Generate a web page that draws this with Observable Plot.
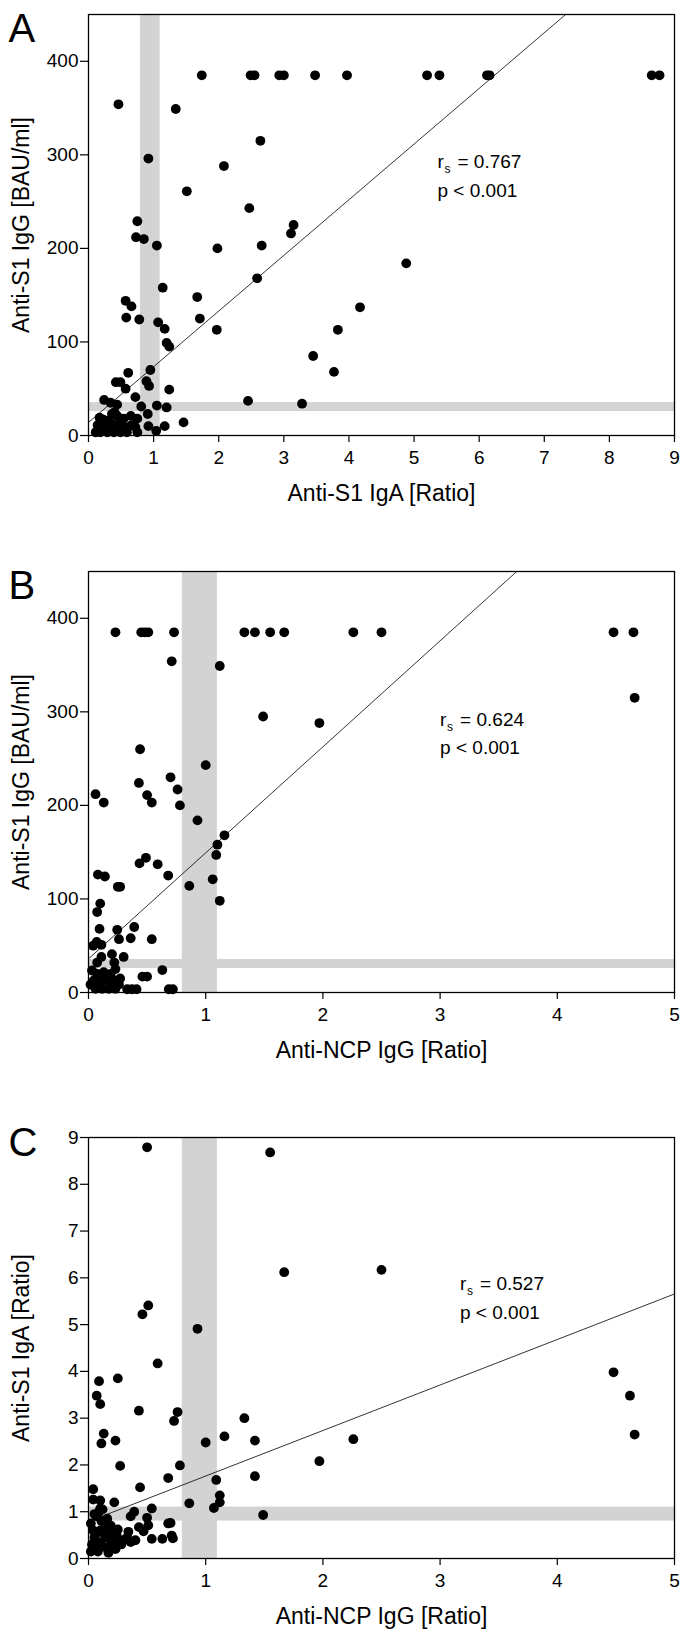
<!DOCTYPE html>
<html><head><meta charset="utf-8">
<script src="https://cdn.jsdelivr.net/npm/d3@7"></script>
<script src="https://cdn.jsdelivr.net/npm/@observablehq/plot@0.6"></script>
<style>
html,body{margin:0;padding:0;background:#fff;}
#wrap{position:relative;width:683px;height:1631px;overflow:hidden;background:#fff;}
#wrap > .pan{position:absolute;left:0;}
</style></head><body><div id="wrap"></div>
<script>
// ---------- Panel A: Anti-S1 IgA (x) vs Anti-S1 IgG (y) ----------
const aIgA = [1.74,2.49,2.55,2.93,3.0,3.48,3.97,5.2,5.39,6.12,6.16,8.65,8.77,
  0.46,1.34,0.92,2.64,2.08,1.51,2.47,0.75,0.73,0.85,1.05,1.98,2.66,3.15,3.11,4.88,2.59,1.14,
  0.57,0.66,1.67,0.58,0.78,1.71,1.07,1.17,1.97,1.20,1.24,4.17,3.83,3.45,3.77,0.95,0.61,0.42,
  0.49,0.57,0.89,0.93,1.24,0.72,0.24,2.45,3.28,0.34,0.44,0.81,1.05,1.20,0.91,1.46,0.17,0.23,
  0.14,0.40,0.44,0.31,0.37,0.65,0.75,0.66,0.72,0.92,1.04,1.17,0.11,0.18,0.29,0.39,0.49,0.59,
  0.75,0.21,0.34,0.47,0.57,0.29,0.49,0.36,0.54];
const aIgG = [385,385,385,385,385,385,385,385,385,385,385,385,385,
  354,349,296,315,288,261,243,229,212,210,203,200,203,225,216,184,168,158,
  144,138,148,126,124,125,121,114,113,99,95,137,113,85,68,70,67,57,
  57,50,58,53,49,41,38,37,34,35,33,31,32,30,23,14,19,17,
  11,25,21,16,12,21,18,11,9,10,5,10,3.5,3.5,3.5,3.5,3.5,3.5,
  3.5,9,9,9,9,14,14,23,18];

// ---------- Panel B: Anti-NCP IgG (x) vs Anti-S1 IgG (y) ----------
const bNCP = [0.23,0.45,0.48,0.51,0.73,1.33,1.42,1.55,1.67,2.26,2.5,4.48,4.65,
  0.71,1.12,4.66,1.49,1.97,0.44,1.0,0.7,0.43,0.76,0.06,0.5,0.13,0.54,0.78,0.93,1.16,1.10,
  1.09,0.49,0.435,0.59,0.08,0.14,0.68,1.06,0.25,0.27,0.86,1.12,0.10,0.074,0.094,0.39,0.245,
  0.36,0.26,0.54,0.04,0.07,0.11,0.20,0.30,0.11,0.074,0.22,0.63,0.46,0.50,0.27,0.33,0.37,0.41,
  0.685,0.72,0.03,0.074,0.13,0.19,0.23,0.045,0.10,0.16,0.22,0.06,0.117,0.173,0.23,0.017,
  0.088,0.145,0.2,0.26];
const bIgG = [385,385,385,385,385,385,385,385,385,385,385,385,385,
  354,349,315,295,288,260,243,230,224,217,212,211,203,203,200,184,168,158,
  147,144,138,137,126,124,125,121,113,113,114,98,95,86,68,70,67,
  58,57,57,50,54,51,41,38,38,32,32,24,17,17,15,3.5,3.5,3.5,
  3.5,3.5,23.5,20,21.7,20,25,12.8,11,12.8,11,4,4,4,4,8.5,
  16,16,14.6,8.5];

// ---------- Panel C: Anti-NCP IgG (x) vs Anti-S1 IgA (y) ----------
const cNCP = [0.50,1.55,1.67,2.5,0.51,0.46,0.93,0.59,0.25,0.09,0.07,0.10,0.43,0.76,0.73,1.33,
  4.48,4.62,4.66,0.13,0.11,0.23,1.0,1.16,1.42,2.26,0.27,0.78,1.97,0.68,1.42,1.09,0.44,0.04,
  0.86,1.12,1.12,1.07,1.49,0.54,0.22,0.04,0.10,0.10,0.39,0.36,0.50,0.70,0.68,0.51,0.43,0.47,
  0.71,0.72,0.63,0.54,0.40,0.34,
  0.02,0.04,0.05,0.03,0.06,0.08,0.1,0.12,0.14,0.16,0.18,0.2,0.22,0.24,0.26,0.28,0.3,0.07,
  0.09,0.11,0.13,0.15,0.17,0.19,0.21,0.23,0.25,0.05,0.12,0.33,0.36,0.02,0.1,0.19];
const cIgA = [8.79,8.68,6.12,6.17,5.41,5.22,4.91,4.17,3.85,3.79,3.48,3.30,3.16,3.13,2.94,3.0,
  3.98,3.48,2.65,2.67,2.46,2.52,2.48,2.61,2.52,2.55,1.98,1.99,2.08,1.72,1.76,1.68,1.52,1.48,
  1.18,1.35,1.2,1.08,0.93,1.07,1.2,1.26,1.24,1.07,1.0,0.9,0.87,0.76,0.75,0.71,0.67,0.58,
  0.49,0.43,0.42,0.42,0.39,0.57,
  0.75,0.6,0.45,0.3,0.2,0.15,0.35,0.55,0.7,0.85,0.6,0.4,0.25,0.5,0.35,0.3,0.4,0.9,
  1.0,0.8,0.25,0.45,0.12,0.7,0.55,0.2,0.62,0.95,1.05,0.45,0.35,0.15,0.6,0.3];

// axes ticks
const ticksIgA = [0,1,2,3,4,5,6,7,8,9];
const ticksIgG = [0,100,200,300,400];
const ticksNCP = [0,1,2,3,4,5];
// borderline (grey) zones
const bandIgA = [0.8, 1.1];
const bandIgG = [25.6, 35.2];
const bandNCP = [0.8, 1.1];
// regression lines [intercept, slope]
const fitA = [14, 59.5];
const fitB = [36, 113.3];
const fitC = [0.79, 0.973];
// statistics
const statsR = ["0.767", "0.624", "0.527"];
const statsP = ["p < 0.001", "p < 0.001", "p < 0.001"];
const letters = ["A", "B", "C"];
const labelIgA = "Anti-S1 IgA [Ratio]";
const labelIgG = "Anti-S1 IgG [BAU/ml]";
const labelNCP = "Anti-NCP IgG [Ratio]";

const FONT = "'Liberation Sans', Arial, Helvetica, sans-serif";
const GREY = "#d3d3d3";

function panel(o) {
  const pts = o.xs.map((x, i) => ({x, y: o.ys[i]}));
  const [x0, x1] = o.xDomain;
  const fitLine = [x0, x1].map(x => ({x, y: o.fit[0] + o.fit[1] * x}));
  const st = [{x: o.statX, y: o.statY}];
  const st2 = [{x: o.statX, y: o.statY2}];
  return Plot.plot({
    width: 683, height: o.height,
    marginLeft: 88, marginRight: 9, marginTop: o.marginTop, marginBottom: o.marginBottom,
    style: {fontFamily: FONT, color: "#000", background: "#fff", overflow: "visible"},
    x: {domain: o.xDomain}, y: {domain: o.yDomain},
    marks: [
      Plot.rect([o.xBand], {x1: d => d[0], x2: d => d[1], fill: GREY}),
      Plot.rect([o.yBand], {y1: d => d[0], y2: d => d[1], fill: GREY}),
      Plot.line(fitLine, {x: "x", y: "y", stroke: "#000", strokeWidth: 0.8, clip: true}),
      Plot.dot(pts, {x: "x", y: "y", r: 4.9, fill: "#000", stroke: "none"}),
      Plot.frame({stroke: "#000", strokeWidth: 1.3}),
      Plot.axisX({ticks: o.xTicks, tickSize: 7, tickPadding: 8, fontSize: 19, label: null,
        tickFormat: d => String(d), strokeWidth: 1.2}),
      Plot.axisY({ticks: o.yTicks, tickSize: 8, tickPadding: 2, fontSize: 19, label: null,
        tickFormat: d => String(d), strokeWidth: 1.2}),
      Plot.text([o.xLabel], {text: d => d, frameAnchor: "bottom", dy: 58, fontSize: 23,
        textAnchor: "middle", lineAnchor: "middle"}),
      Plot.text([o.yLabel], {text: d => d, frameAnchor: "left", dx: -67, rotate: -90, fontSize: 23,
        textAnchor: "middle", lineAnchor: "middle"}),
      Plot.text([o.letter], {text: d => d, frameAnchor: "top-left", dx: -80, dy: o.letterDy,
        fontSize: 40, textAnchor: "start", lineAnchor: "top"}),
      Plot.text(st, {x: "x", y: "y", text: () => "r", fontSize: 19, textAnchor: "start", lineAnchor: "bottom"}),
      Plot.text(st, {x: "x", y: "y", text: () => "s", fontSize: 12, dx: 7, dy: 5, textAnchor: "start", lineAnchor: "bottom"}),
      Plot.text(st, {x: "x", y: "y", text: () => "= " + o.r, fontSize: 19, dx: 20, textAnchor: "start", lineAnchor: "bottom"}),
      Plot.text(st2, {x: "x", y: "y", text: () => o.p, fontSize: 19, textAnchor: "start", lineAnchor: "bottom"})
    ]
  });
}

const wrap = document.getElementById("wrap");
function place(svg, top) {
  const d = document.createElement("div");
  d.className = "pan";
  d.style.top = top + "px";
  d.appendChild(svg);
  wrap.appendChild(d);
}

place(panel({
  xs: aIgA, ys: aIgG, xDomain: [0, 9], yDomain: [0, 450], xTicks: ticksIgA, yTicks: ticksIgG,
  xBand: bandIgA, yBand: bandIgG, fit: fitA, letter: letters[0], letterDy: -1,
  xLabel: labelIgA, yLabel: labelIgG, r: statsR[0], p: statsP[0], statX: 5.36, statY: 286, statY2: 255,
  height: 530, marginTop: 14, marginBottom: 95
}), 0);

place(panel({
  xs: bNCP, ys: bIgG, xDomain: [0, 5], yDomain: [0, 450], xTicks: ticksNCP, yTicks: ticksIgG,
  xBand: bandNCP, yBand: bandIgG, fit: fitB, letter: letters[1], letterDy: -1,
  xLabel: labelNCP, yLabel: labelIgG, r: statsR[1], p: statsP[1], statX: 3.0, statY: 285, statY2: 255,
  height: 550, marginTop: 41, marginBottom: 88
}), 530);

place(panel({
  xs: cNCP, ys: cIgA, xDomain: [0, 5], yDomain: [0, 9], xTicks: ticksNCP, yTicks: ticksIgA,
  xBand: bandNCP, yBand: bandIgA, fit: fitC, letter: letters[2], letterDy: -10,
  xLabel: labelNCP, yLabel: labelIgA, r: statsR[2], p: statsP[2], statX: 3.17, statY: 5.74, statY2: 5.12,
  height: 551, marginTop: 57, marginBottom: 73
}), 1080);
</script>
</body></html>
